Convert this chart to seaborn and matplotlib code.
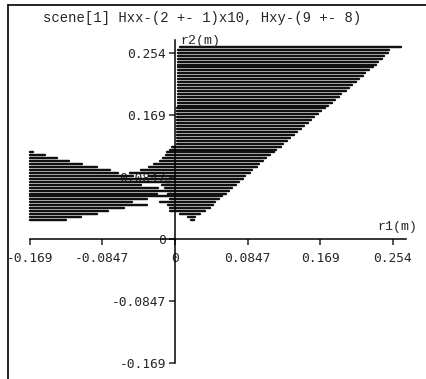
import matplotlib
matplotlib.use("Agg")
import matplotlib.pyplot as plt
from matplotlib.lines import Line2D
import numpy as np
import pandas as pd
import seaborn as sns

# scan-line rows of the scene, r2 in metres (top to bottom)
row_r2 = [0.262, 0.258, 0.254, 0.250, 0.246, 0.242, 0.238, 0.234, 0.230, 0.226,
          0.222, 0.218, 0.214, 0.210, 0.206, 0.202, 0.198, 0.194, 0.190, 0.186,
          0.182, 0.178, 0.174, 0.170, 0.166, 0.162, 0.158, 0.154, 0.150, 0.146,
          0.142, 0.138, 0.134, 0.130, 0.126, 0.122, 0.118, 0.114, 0.110, 0.106,
          0.102, 0.098, 0.094, 0.090, 0.086, 0.082, 0.078, 0.074, 0.070, 0.066,
          0.062, 0.058, 0.054, 0.050, 0.046, 0.042, 0.038, 0.034, 0.030, 0.026]

# right wedge: where each row starts and ends in r1
right_start = [0.006, 0.004, 0.004, 0.004, 0.004, 0.004, 0.004, 0.004, 0.004, 0.004,
               0.004, 0.004, 0.004, 0.004, 0.004, 0.004, 0.004, 0.004, 0.004, 0.004,
               0.004, 0.002, 0.002, 0.002, 0.002, 0.002, 0.002, 0.002, 0.002, 0.002,
               0.002, 0.002, 0.002, 0.002, -0.004, -0.006, -0.009, -0.011, -0.014, -0.018,
               -0.024, -0.030, -0.040, -0.052, -0.030, -0.012, -0.010, -0.015, -0.012, -0.006,
               -0.008, -0.010, -0.006, -0.018, -0.008, -0.006, -0.006, 0.006, 0.015, 0.019]
right_end = [0.263, 0.249, 0.248, 0.244, 0.241, 0.237, 0.234, 0.231, 0.226, 0.222,
             0.219, 0.214, 0.211, 0.206, 0.203, 0.199, 0.194, 0.191, 0.186, 0.183,
             0.178, 0.175, 0.170, 0.167, 0.162, 0.159, 0.155, 0.150, 0.147, 0.142,
             0.139, 0.134, 0.131, 0.126, 0.123, 0.118, 0.115, 0.111, 0.106, 0.103,
             0.098, 0.095, 0.090, 0.087, 0.082, 0.079, 0.075, 0.071, 0.066, 0.063,
             0.059, 0.055, 0.051, 0.047, 0.044, 0.041, 0.035, 0.029, 0.023, 0.022]

# left band: rows starting at the left edge
left_r2 = [0.118, 0.114, 0.110, 0.106, 0.102, 0.098, 0.094, 0.090, 0.086, 0.082,
           0.078, 0.074, 0.070, 0.066, 0.062, 0.058, 0.054, 0.050, 0.046, 0.042,
           0.038, 0.034, 0.030, 0.026]
left_start = -0.169
left_end = [-0.165, -0.152, -0.138, -0.124, -0.109, -0.091, -0.076, -0.067, -0.049, -0.010,
            -0.005, -0.040, -0.020, -0.005, -0.021, -0.010, -0.033, -0.050, -0.033, -0.060,
            -0.078, -0.091, -0.110, -0.127]

ticks = [-0.169, -0.0847, 0, 0.0847, 0.169, 0.254]
tick_labels = ["-0.169", "-0.0847", "0", "0.0847", "0.169", "0.254"]
title = "scene[1] Hxx-(2 +- 1)x10, Hxy-(9 +- 8)"

#build a long table, two points per segment
recs = []
seg = 0
for y, a, b in zip(row_r2, right_start, right_end):
    recs += [(seg, a, y), (seg, b, y)]
    seg += 1
for y, b in zip(left_r2, left_end):
    recs += [(seg, left_start, y), (seg, b, y)]
    seg += 1
df = pd.DataFrame(recs, columns=["seg", "r1", "r2"])

sns.set_style("white")
plt.rcParams["axes.unicode_minus"] = False
plt.rcParams["font.family"] = ["DejaVu Sans Mono"]

fig = plt.figure(figsize=(4.27, 3.79), dpi=100)
ax = fig.add_axes([0, 0, 1, 1])
ax.patch.set_alpha(0)

sns.lineplot(data=df, x="r1", y="r2", units="seg", estimator=None, sort=False,
             color="#111111", lw=1.75, ax=ax, legend=False)

ax.set_xlim(-0.204, 0.2937)
ax.set_ylim(-0.191, 0.326)
ax.set_xlabel("")
ax.set_ylabel("")
ax.set_axisbelow(True)

for s in ["top", "right"]:
    ax.spines[s].set_visible(False)
ax.spines["left"].set_position(("data", 0))
ax.spines["bottom"].set_position(("data", 0))
ax.spines["left"].set_bounds(-0.169, 0.272)
ax.spines["bottom"].set_bounds(-0.169, 0.269)
for s in ["left", "bottom"]:
    ax.spines[s].set_color("black")
    ax.spines[s].set_linewidth(1.1)

ax.set_xticks(ticks)
ax.set_xticklabels(tick_labels)
ax.set_yticks(ticks)
ax.set_yticklabels(tick_labels)
ax.tick_params(axis="x", direction="out", length=4.5, width=1.1, pad=5, labelsize=9.3)
ax.tick_params(axis="y", direction="out", length=4.5, width=1.1, pad=2, labelsize=9.3)
ax.tick_params(bottom=True, left=True)

ax.text(0.282, 0.008, "r1(m)", ha="right", va="bottom", fontsize=9.5,
        family="Liberation Mono")
ax.text(0.006, 0.262, "r2(m)", ha="left", va="bottom", fontsize=9.5,
        family="Liberation Mono")

fig.text(202 / 427, 1 - 18 / 379, title, ha="center", va="center", fontsize=10,
         family="Liberation Mono")

# outer frame (top and left edges only)
fig.add_artist(Line2D([8 / 427, 1], [1 - 5 / 379, 1 - 5 / 379], color="black", lw=1.2))
fig.add_artist(Line2D([8 / 427, 8 / 427], [0, 1 - 5 / 379], color="black", lw=1.2))

fig.savefig("out.png", dpi=100)
